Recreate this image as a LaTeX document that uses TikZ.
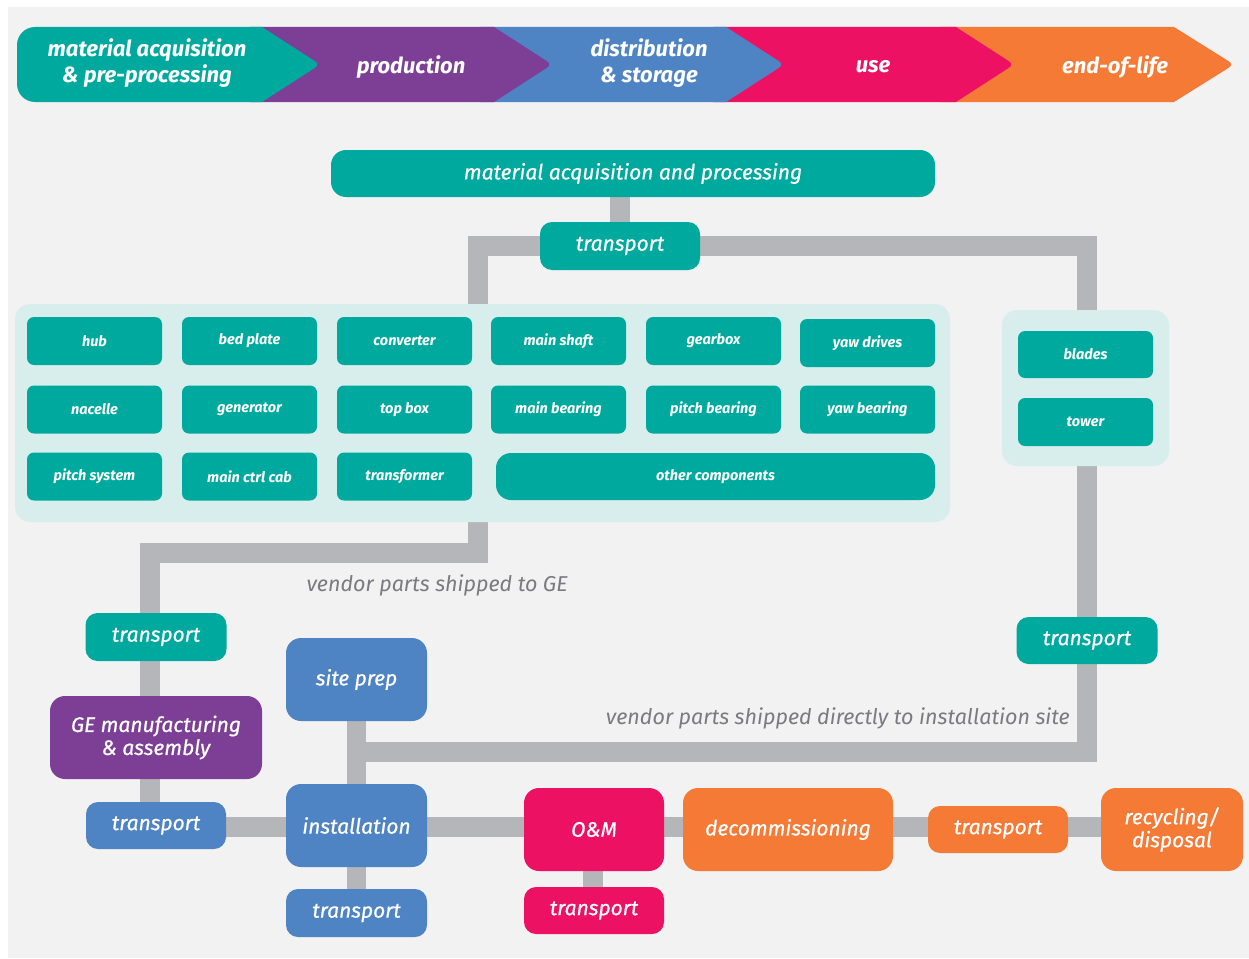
\documentclass[tikz,border=0pt]{standalone}
\usepackage{fontspec}
\setmainfont{Fira Sans}
\newfontfamily\medfont{Fira Sans}[FakeBold=0.7]
\definecolor{tealc}{HTML}{00A99D}
\definecolor{purplec}{HTML}{7D3E96}
\definecolor{bluec}{HTML}{4F84C4}
\definecolor{pinkc}{HTML}{ED1164}
\definecolor{orangec}{HTML}{F47A36}
\definecolor{ltteal}{HTML}{D8EEEC}
\definecolor{lgray}{HTML}{B5B6B9}
\definecolor{bgc}{HTML}{F2F2F2}
\definecolor{labgray}{HTML}{7A7A7F}
\pgfdeclarelayer{bgl}
\pgfdeclarelayer{lines}
\pgfsetlayers{bgl,lines,main}
\tikzset{
  box/.style={rounded corners=12pt, inner sep=0pt, text=white, align=center,
    font=\fontsize{21}{23}\selectfont\medfont\itshape},
  smallbox/.style={fill=tealc, rounded corners=7pt, minimum width=135pt, minimum height=48pt,
    inner sep=0pt, text=white, font=\fontsize{14.5}{16}\selectfont\bfseries\itshape},
  cont/.style={fill=ltteal, rounded corners=15pt, inner sep=0pt},
  conn/.style={draw=lgray, line width=19.5pt},
  lbl/.style={text=labgray, font=\fontsize{21.5}{23}\selectfont\itshape, inner sep=0pt},
  band/.style={text=white, font=\fontsize{22}{26}\selectfont\bfseries\itshape, align=center, inner sep=0pt}
}
\begin{document}
\begin{tikzpicture}[x=1pt,y=-1pt]
\begin{pgfonlayer}{bgl}
\fill[white] (0,0) rectangle (1249,958);
\fill[bgc] (8,7) rectangle (1249,958);
\end{pgfonlayer}
\useasboundingbox (0,0) rectangle (1249,958);

% banner
\fill[orangec] (940,27) -- (1174,27) [rounded corners=6pt] -- (1234,64.5) [sharp corners] -- (1174,102) -- (940,102) -- cycle;
\fill[pinkc] (713,27) -- (956,27) [rounded corners=6pt] -- (1014,64.5) [sharp corners] -- (956,102) -- (713,102) -- cycle;
\fill[bluec] (480,27) -- (726,27) [rounded corners=6pt] -- (784,64.5) [sharp corners] -- (726,102) -- (480,102) -- cycle;
\fill[purplec] (250,27) -- (494,27) [rounded corners=6pt] -- (552,64.5) [sharp corners] -- (494,102) -- (250,102) -- cycle;
\fill[tealc] (262,27) [rounded corners=6pt] -- (320,64.5) [sharp corners] -- (262,102) [rounded corners=18pt] -- (17,102) -- (17,27) [sharp corners] -- cycle;
\node[band] (b1) at (147,63) {material acquisition\\\& pre-processing};
\node[band] (b2) at (411,67) {production};
\node[band] (b3) at (649,63) {distribution\\\& storage};
\node[band] (b4) at (873,67) {use};
\node[band] (b5) at (1115,67) {end-of-life};

% main nodes
\node[box, fill=tealc, rounded corners=15pt, minimum width=604pt, minimum height=47pt] (matacq) at (633,173.5) {material acquisition and processing};
\node[box, fill=tealc, minimum width=160pt, minimum height=48pt] (t1) at (620,246) {transport};

\node[cont, minimum width=935pt, minimum height=218pt] (C1) at (482.5,413) {};
\node[cont, minimum width=167pt, minimum height=156pt] (C2) at (1085.5,388) {};

\node[smallbox] (hub) at (94.5,341) {hub};
\node[smallbox] (bed) at (249.5,341) {bed plate};
\node[smallbox] (conv) at (404.5,341) {converter};
\node[smallbox] (shaft) at (558.5,341) {main shaft};
\node[smallbox] (gear) at (713.5,341) {gearbox};
\node[smallbox] (yawd) at (867.5,343) {yaw drives};
\node[smallbox] (nac) at (94.5,409.5) {nacelle};
\node[smallbox] (gen) at (249.5,409.5) {generator};
\node[smallbox] (topb) at (404.5,409.5) {top box};
\node[smallbox] (mbear) at (558.5,409.5) {main bearing};
\node[smallbox] (pbear) at (713.5,409.5) {pitch bearing};
\node[smallbox] (ybear) at (867.5,409.5) {yaw bearing};
\node[smallbox] (psys) at (94.5,476.5) {pitch system};
\node[smallbox] (mcc) at (249.5,476.5) {main ctrl cab};
\node[smallbox] (trf) at (404.5,476.5) {transformer};
\node[smallbox, rounded corners=15pt, minimum width=439pt, minimum height=47pt] (other) at (715.5,476.5) {other components};
\node[smallbox, minimum height=47pt] (blades) at (1085.5,354.5) {blades};
\node[smallbox] (tower) at (1085.5,422) {tower};

\node[box, fill=tealc, minimum width=141pt, minimum height=47pt] (t2) at (1087,640.5) {transport};
\node[box, fill=tealc, minimum width=141pt, minimum height=48pt] (t3) at (156,637) {transport};
\node[box, fill=purplec, rounded corners=15pt, minimum width=212pt, minimum height=83pt] (ge) at (156,737.5) {GE manufacturing\\\& assembly};
\node[box, fill=bluec, minimum width=140pt, minimum height=47pt] (t4) at (156,825.5) {transport};
\node[box, fill=bluec, rounded corners=15pt, minimum width=141pt, minimum height=83pt] (site) at (356.5,679.5) {site prep};
\node[box, fill=bluec, rounded corners=15pt, minimum width=141pt, minimum height=83pt] (inst) at (356.5,825.5) {installation};
\node[box, fill=bluec, minimum width=141pt, minimum height=48pt] (t5) at (356.5,913) {transport};
\node[box, fill=pinkc, rounded corners=15pt, minimum width=140pt, minimum height=83pt] (om) at (594,829.5) {O\&M};
\node[box, fill=orangec, rounded corners=15pt, minimum width=210pt, minimum height=83pt] (decom) at (788,829.5) {decommissioning};
\node[box, fill=orangec, minimum width=140pt, minimum height=47pt] (t6) at (998,829.5) {transport};
\node[box, fill=orangec, rounded corners=15pt, minimum width=142pt, minimum height=83pt] (recyc) at (1172,829.5) {recycling/\\disposal};
\node[box, fill=pinkc, minimum width=140pt, minimum height=47pt] (t7) at (594,910.5) {transport};

\node[lbl, anchor=east] (l1) at (568,585) {vendor parts shipped to GE};
\node[lbl, anchor=east] (l2) at (1070,718) {vendor parts shipped directly to installation site};

\coordinate (jv) at (356.5,752);

% connectors
\begin{pgfonlayer}{lines}
\draw[conn] (t1.center) -- (t1.center |- matacq.center);
\draw[conn] ([xshift=-4.5pt]C1.north) |- (t1.center);
\draw[conn] ([xshift=1.5pt]C2.north) |- (t1.center);
\draw[conn] (t2 |- C2.south) -- (t2.center) |- (jv);
\draw[conn] (site) -- (inst);
\draw[conn] (inst) -- (t5);
\draw[conn] ([xshift=-4.5pt]C1.south) -- ++(0,31) -| ([xshift=-6pt]t3.center);
\draw[conn] ([xshift=-6pt]t3.center) -- ([xshift=-6pt]t4.center);
\draw[conn] ([yshift=-1.5pt]t4.center) -- ([yshift=-1.5pt]inst.center);
\draw[conn] ([yshift=-1.5pt]inst.center) -- ([yshift=2.5pt]recyc.center);
\draw[conn] ([xshift=-1pt]om.center) -- ([xshift=-1pt]t7.center);
\end{pgfonlayer}
\end{tikzpicture}
\end{document}
